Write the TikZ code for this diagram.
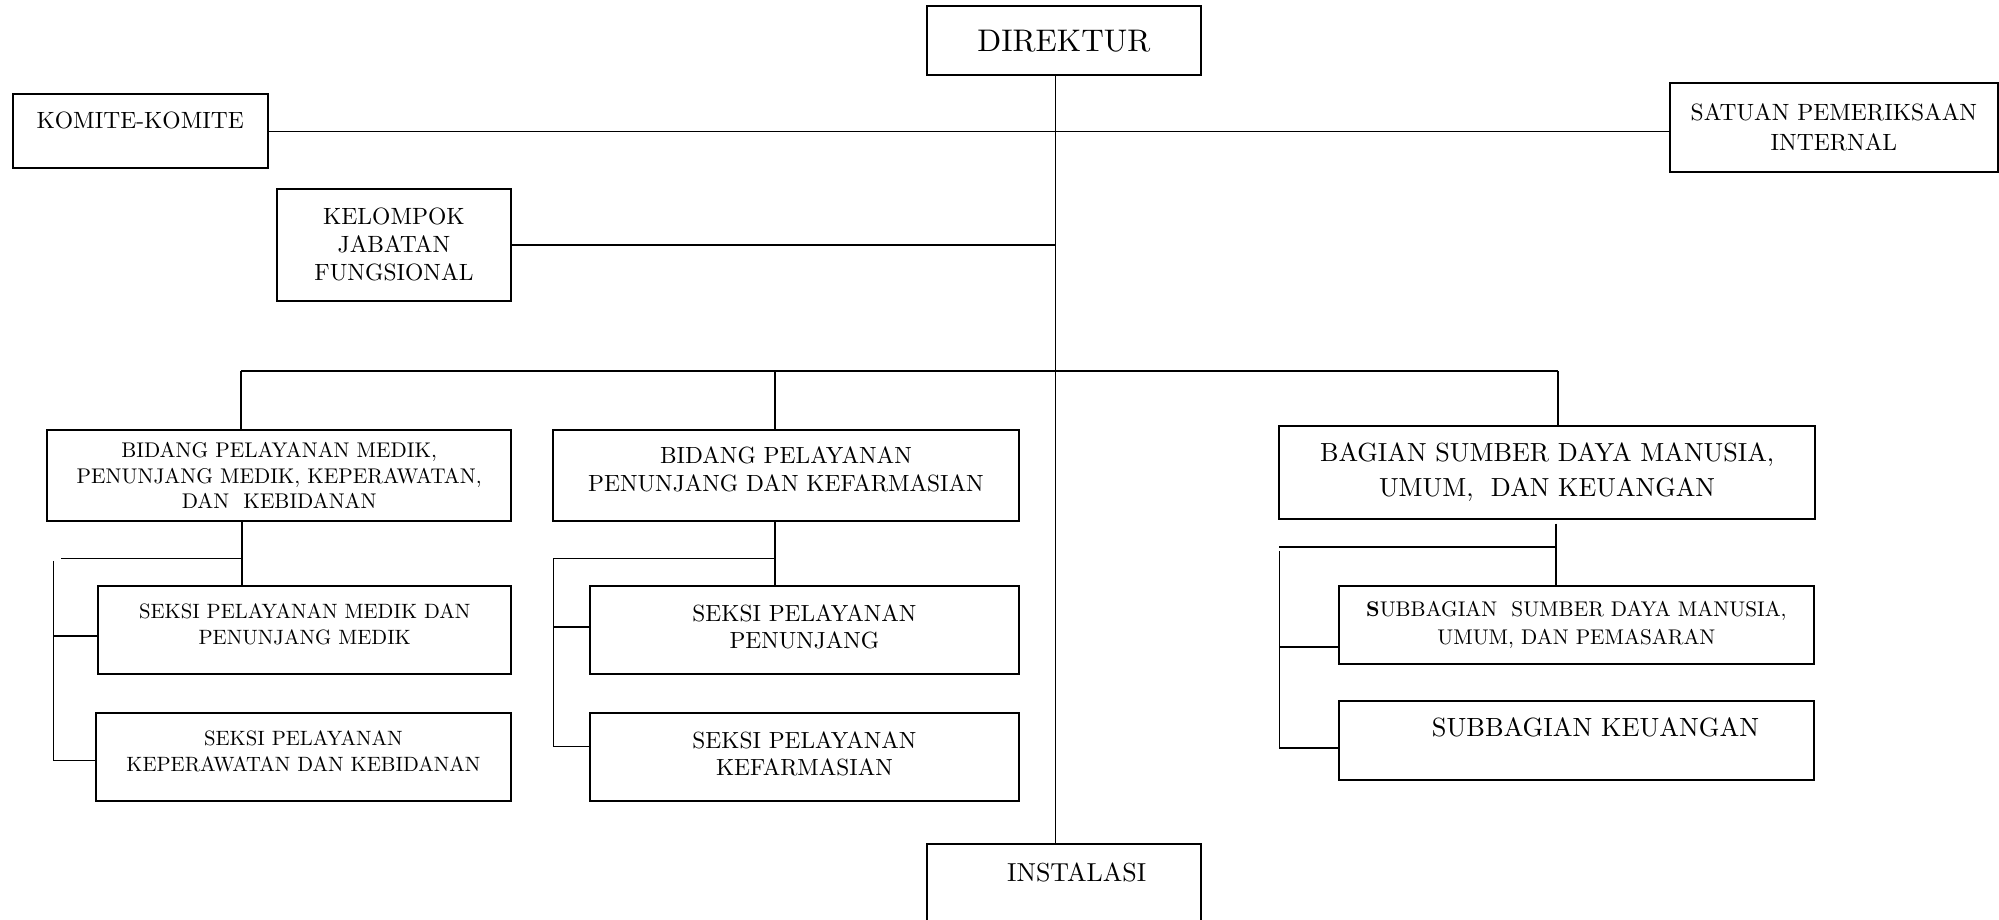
\documentclass[tikz,border=0pt]{standalone}
\usepackage{fontspec}
\setmainfont{lmroman10-regular.otf}[BoldFont=lmroman10-bold.otf]
\usetikzlibrary{positioning}
\newlength\ux
\setlength\ux{0.012755cm}
\tikzset{
  box/.style={draw, line width=0.55pt, align=center, inner sep=0pt},
  link/.style={line width=0.45pt},
  lift/.style={text depth=#1\ux},
}

\begin{document}
\begin{tikzpicture}[x=1\ux, y=1\ux]
    \path[use as bounding box] (0,0) rectangle (1568,-721);
    \clip (0,0) rectangle (1568,-721);
    % top level
    \node[box, font=\fontsize{8.9}{10.5}\selectfont, minimum width=215\ux, minimum height=54\ux] (dir) at (834.5,-32) {DIREKTUR};
    \node[box, font=\fontsize{6.7}{8.3}\selectfont, lift=18, minimum width=200\ux, minimum height=58\ux] (komite) at (110,-103) {KOMITE-KOMITE};
    \node[box, font=\fontsize{6.7}{8.7}\selectfont, minimum width=257\ux, minimum height=70\ux] (spi) at (1438.5,-100) {SATUAN PEMERIKSAAN\\INTERNAL};
    \node[box, font=\fontsize{6.7}{8}\selectfont, minimum width=184\ux, minimum height=88\ux] (kjf) at (309,-192) {KELOMPOK\\JABATAN\\FUNGSIONAL};
    % bidang / bagian
    \node[box, font=\fontsize{6.05}{7.3}\selectfont, minimum width=364\ux, minimum height=72\ux] (bid1) at (219,-373) {BIDANG PELAYANAN MEDIK,\\PENUNJANG MEDIK, KEPERAWATAN,\\DAN\ \ KEBIDANAN};
    \node[box, font=\fontsize{6.67}{8}\selectfont, lift=10, minimum width=365\ux, minimum height=72\ux] (bid2) at (616.5,-373) {BIDANG PELAYANAN\\PENUNJANG DAN KEFARMASIAN};
    \node[box, font=\fontsize{7.45}{9.8}\selectfont, minimum width=420\ux, minimum height=73\ux] (bag) at (1213.5,-370.5) {BAGIAN SUMBER DAYA MANUSIA,\\UMUM,\ \ DAN KEUANGAN};
    % seksi / subbagian
    \node[box, font=\fontsize{5.9}{7.2}\selectfont, lift=10, minimum width=324\ux, minimum height=69\ux] (sek1) at (239,-494.5) {SEKSI PELAYANAN MEDIK DAN\\PENUNJANG MEDIK};
    \node[box, font=\fontsize{5.9}{7.2}\selectfont, lift=10, minimum width=326\ux, minimum height=69\ux, below=29\ux of sek1.south, anchor=north, xshift=-1\ux] (sek2) {SEKSI PELAYANAN\\KEPERAWATAN DAN KEBIDANAN};
    \node[box, font=\fontsize{6.65}{7.6}\selectfont, lift=6, minimum width=336\ux, minimum height=69\ux] (sek3) at (631,-494.5) {SEKSI PELAYANAN\\PENUNJANG};
    \node[box, font=\fontsize{6.65}{7.6}\selectfont, lift=6, minimum width=336\ux, minimum height=69\ux, below=29\ux of sek3.south, anchor=north] (sek4) {SEKSI PELAYANAN\\KEFARMASIAN};
    \node[box, font=\fontsize{6.05}{7.95}\selectfont, minimum width=373\ux, minimum height=61\ux] (sub1) at (1236.5,-490.5) {\textbf{S}UBBAGIAN\ \ SUMBER DAYA MANUSIA,\\UMUM, DAN PEMASARAN};
    \node[box, font=\fontsize{7.5}{9}\selectfont, lift=20, minimum width=373\ux, minimum height=62\ux, below=27\ux of sub1.south, anchor=north] (sub2) {\hspace*{30\ux}SUBBAGIAN KEUANGAN};
    \node[box, font=\fontsize{7.4}{9}\selectfont, lift=36, minimum width=215\ux, minimum height=80\ux, anchor=north] (inst) at (834.5,-661) {\hspace*{20\ux}INSTALASI};

    % trunk and bus
    \coordinate (trunk) at (828,-291);
    \coordinate (busL) at (189,-291);
    \coordinate (busM) at (608,-291);
    \coordinate (busR) at (1222,-291);
    \draw[link] (trunk |- dir.south) -- (trunk |- inst.north);
    \draw[link] (komite.east) -- (komite.east -| spi.west);
    \draw[link] (kjf.east) -- (kjf.east -| trunk);
    \draw[link] (busL) -- (busR);
    \draw[link] (busL) -- (busL |- bid1.north);
    \draw[link] (busM) -- (busM |- bid2.north);
    \draw[link] (busR) -- (busR |- bag.north);

    % under bidang pelayanan medik
    \coordinate (hub1) at (190,-438);
    \coordinate (rail1) at (42,-440);
    \draw[link] (hub1 |- bid1.south) -- (hub1 |- sek1.north);
    \draw[link] (hub1) -- +(-142,0);
    \draw[link] (rail1) |- ([yshift=-2.5\ux]sek2.west);
    \draw[link] ([yshift=-4.5\ux]sek1.west) -- ([yshift=-4.5\ux]sek1.west -| rail1);

    % under bidang penunjang
    \coordinate (hub2) at (608,-438);
    \coordinate (rail2) at (434,-438);
    \draw[link] (hub2 |- bid2.south) -- (hub2 |- sek3.north);
    \draw[link] (hub2) -- (rail2) |- ([yshift=8.5\ux]sek4.west);
    \draw[link] ([yshift=2.5\ux]sek3.west) -- ([yshift=2.5\ux]sek3.west -| rail2);

    % under bagian
    \coordinate (hub3) at (1220.5,-429);
    \coordinate (rail3) at (1003.5,-429);
    \draw[link] ([yshift=-3\ux]hub3 |- bag.south) -- (hub3 |- sub1.north);
    \draw[link] (hub3) -- (rail3);
    \draw[link] ([yshift=-3\ux]rail3) |- ([yshift=-6\ux]sub2.west);
    \draw[link] ([yshift=-17\ux]sub1.west) -- ([yshift=-17\ux]sub1.west -| rail3);
\end{tikzpicture}
\end{document}
